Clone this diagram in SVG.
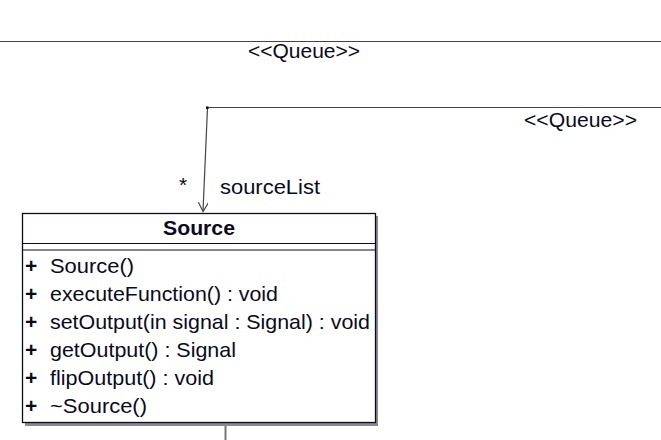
<svg xmlns="http://www.w3.org/2000/svg" width="661" height="440" viewBox="0 0 661 440">
<defs>
<style>
text{font-family:"Liberation Sans",Arial,sans-serif;font-size:21px;fill:#0a0a1e}
.b{font-weight:bold}
.conn{stroke:#444;stroke-width:1.2;fill:none}
.box{fill:#fff;stroke:#0a0a28;stroke-width:1.3}
.shadow{fill:#8a8a8a}
.sep{stroke:#0a0a28;stroke-width:1.2}
</style>
<marker id="open" markerWidth="14" markerHeight="14" refX="10" refY="5" orient="auto" markerUnits="userSpaceOnUse">
<path d="M1,0 L10,5 L1,10" fill="none" stroke="#444" stroke-width="1.2"/>
</marker>
</defs>
<rect width="661" height="440" fill="#fff"/>
<g id="connectors">
<line class="conn" x1="0" y1="41.5" x2="661" y2="41.5" stroke="#222"/>
<text x="248" y="58" textLength="112" lengthAdjust="spacingAndGlyphs">&lt;&lt;Queue&gt;&gt;</text>
<polyline class="conn" points="661,107.5 207.5,107.5 203,211.5" marker-end="url(#open)"/>
<rect x="206" y="106.5" width="2.5" height="2.5" fill="#000"/>
<text x="524" y="126.5" textLength="113" lengthAdjust="spacingAndGlyphs">&lt;&lt;Queue&gt;&gt;</text>
<text x="179" y="192">*</text>
<text x="220" y="194" textLength="100" lengthAdjust="spacingAndGlyphs">sourceList</text>
<line x1="225.5" y1="423" x2="225.5" y2="440" stroke="#777" stroke-width="2"/>
</g>
<g id="Source">
<rect class="shadow" x="25" y="216" width="353" height="210"/>
<rect class="box" x="22.5" y="213.5" width="353" height="209"/>
<text class="b" x="199" y="235" text-anchor="middle" textLength="72" lengthAdjust="spacingAndGlyphs">Source</text>
<line class="sep" x1="22.5" y1="243.5" x2="375.5" y2="243.5"/>
<line class="sep" x1="22.5" y1="250" x2="375.5" y2="250"/>
<text class="b" x="25" y="273">+</text>
<text class="b" x="25" y="301">+</text>
<text class="b" x="25" y="329">+</text>
<text class="b" x="25" y="357">+</text>
<text class="b" x="25" y="385">+</text>
<text class="b" x="25" y="413">+</text>
<text x="50" y="273" textLength="84" lengthAdjust="spacingAndGlyphs">Source()</text>
<text x="50" y="301" textLength="228" lengthAdjust="spacingAndGlyphs">executeFunction() : void</text>
<text x="50" y="329" textLength="320" lengthAdjust="spacingAndGlyphs">setOutput(in signal : Signal) : void</text>
<text x="50" y="357" textLength="186" lengthAdjust="spacingAndGlyphs">getOutput() : Signal</text>
<text x="50" y="385" textLength="164" lengthAdjust="spacingAndGlyphs">flipOutput() : void</text>
<text x="50" y="413" textLength="97" lengthAdjust="spacingAndGlyphs">~Source()</text>
</g>
</svg>
